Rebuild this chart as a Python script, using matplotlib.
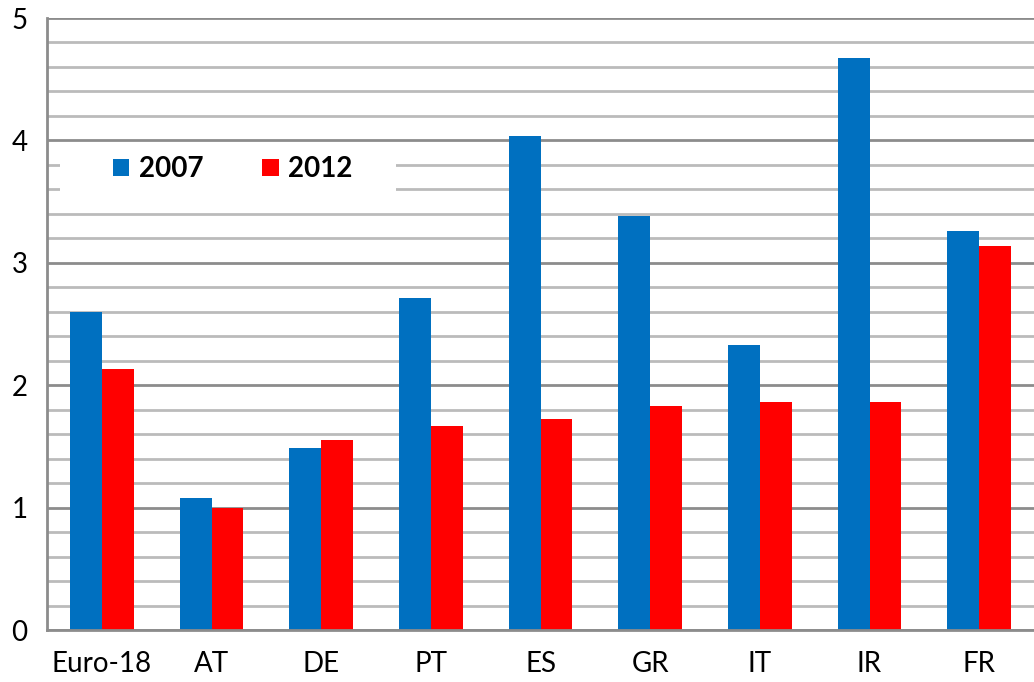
import numpy as np
import matplotlib.pyplot as plt
from matplotlib.patches import Rectangle

# values
countries = ['Euro-18', 'AT', 'DE', 'PT', 'ES', 'GR', 'IT', 'IR', 'FR']
vals_2007 = [2.60, 1.08, 1.49, 2.71, 4.04, 3.38, 2.33, 4.67, 3.26]
vals_2012 = [2.13, 1.00, 1.55, 1.67, 1.72, 1.83, 1.86, 1.86, 3.14]

plt.rcParams['font.family'] = ['Lato', 'DejaVu Sans']

fig = plt.figure(figsize=(10.34, 6.82), dpi=100)
ax = fig.add_axes([0.0455, 0.0762, 0.9545, 0.8974])

x = np.arange(len(countries))
w = 0.29
ax.bar(x - w / 2, vals_2007, w, color='#0070C0', label='2007', zorder=3)
ax.bar(x + w / 2, vals_2012, w, color='#FF0000', label='2012', zorder=3)

ax.set_xlim(-0.5, len(countries) - 0.5)
ax.set_ylim(0, 5)
ax.set_yticks(range(6))
ax.set_yticks(np.arange(0, 5.01, 0.2), minor=True)
ax.grid(axis='y', which='minor', color='#BBBBBB', linewidth=2, zorder=0)
ax.grid(axis='y', which='major', color='#8C8C8C', linewidth=2, zorder=1)
ax.set_xticks(x)
ax.set_xticklabels(countries)
ax.tick_params(axis='both', which='both', length=0, labelsize=20)
ax.tick_params(axis='x', pad=15)
ax.tick_params(axis='y', pad=14)

for s in ['top', 'right']:
    ax.spines[s].set_visible(False)
for s in ['left', 'bottom']:
    ax.spines[s].set_color('#8C8C8C')
    ax.spines[s].set_linewidth(2)
    ax.spines[s].set_zorder(4)

# white patch behind the legend hiding the gridlines
ax.add_patch(Rectangle((0.0132, 0.705), 0.34, 0.085, transform=ax.transAxes,
                       facecolor='white', edgecolor='none', zorder=2))
leg = ax.legend(loc='center', bbox_to_anchor=(0.188, 0.753), ncol=2, frameon=False,
                prop={'weight': 'bold', 'size': 20}, handlelength=0.6, handleheight=0.6,
                handletextpad=0.35, columnspacing=2.1)
leg.set_zorder(5)

fig.savefig('out.png', dpi=100)
